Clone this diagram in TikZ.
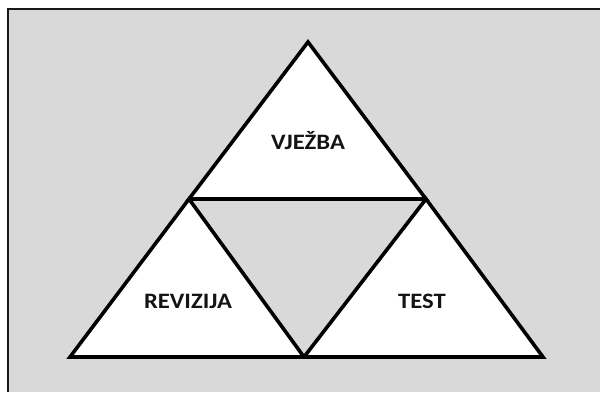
\documentclass[tikz,border=0pt]{standalone}
\usepackage{fontspec}
\setmainfont{Carlito}
\begin{document}
\begin{tikzpicture}[x=1pt,y=-1pt,
  tri/.style={draw=black,fill=white,line width=3.6pt,line join=miter},
  lbl/.style={font=\fontsize{22}{26}\selectfont\bfseries,text=black!92,inner sep=0pt,xscale=1.12}]
\useasboundingbox (0,0) rectangle (600,392);
\fill[white] (0,0) rectangle (600,392);
\fill[fill={rgb,255:red,217;green,217;blue,217}] (7.5,8.5) rectangle (600,392);
\draw[line width=2pt,black!90] (7.5,392) -- (7.5,8.5) -- (600,8.5);
\coordinate (top) at (308,42);
\coordinate (ml) at (189,199);
\coordinate (mr) at (426,199);
\coordinate (bl) at (70,357);
\coordinate (bm) at (304,357);
\coordinate (br) at (543,357);
\draw[tri] (top) -- (mr) -- (ml) -- cycle;
\draw[tri] (ml) -- (bm) -- (bl) -- cycle;
\draw[tri] (mr) -- (br) -- (bm) -- cycle;
\node[lbl] (v) at (308,141) {VJEŽBA};
\node[lbl] (r) at (188,301) {REVIZIJA};
\node[lbl] (t) at (422,301) {TEST};
\end{tikzpicture}
\end{document}
